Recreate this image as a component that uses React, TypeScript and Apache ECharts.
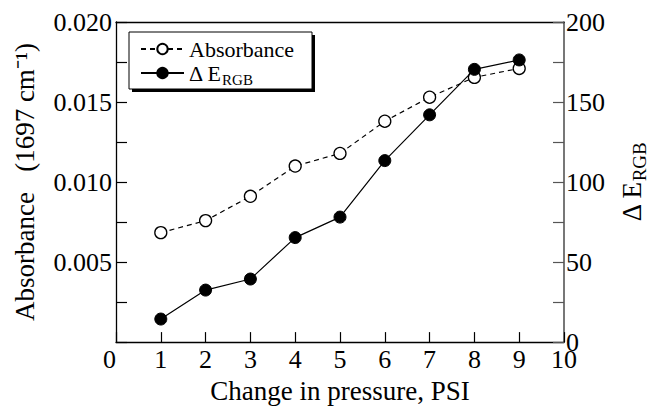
import React, { useEffect, useRef } from "react";
import * as echarts from "echarts";

const pressure = [1, 2, 3, 4, 5, 6, 7, 8, 9];
const absorbance = [0.00684, 0.00759, 0.00911, 0.0110, 0.01179, 0.0138, 0.0153, 0.01654, 0.0171];
const deltaE = [14.4, 32.5, 39.4, 65.3, 78.1, 113.4, 142, 170.4, 176.3];

const SERIF = "Liberation Serif";

export default function App() {
  const ref = useRef<HTMLDivElement>(null);
  useEffect(() => {
    document.body.style.margin = "0";
    if (!ref.current) return;
    const chart = echarts.init(ref.current, null, { renderer: "svg" });
    const absData = pressure.map((p, i) => [p, absorbance[i]]);
    const deData = pressure.map((p, i) => [p, deltaE[i]]);
    chart.setOption({
      animation: false,
      grid: { left: 116, right: 81, top: 22, bottom: 58 },
      legend: {
        orient: "vertical",
        left: 129,
        top: 34,
        padding: [4, 10, 4, 11],
        itemGap: 2,
        itemWidth: 43,
        itemHeight: 13,
        data: ["Absorbance", "dE"],
        formatter: (name: string) =>
          name === "dE" ? "{n|Δ E}{s|RGB}" : "{n|Absorbance}",
        textStyle: {
          fontFamily: SERIF,
          fontSize: 22,
          color: "#000",
          rich: {
            n: { fontFamily: SERIF, fontSize: 22, lineHeight: 22, verticalAlign: "top", color: "#000" },
            s: { fontFamily: SERIF, fontSize: 15, lineHeight: 16, padding: [10, 0, 0, 0], verticalAlign: "top", color: "#000" },
          },
        },
      },
      graphic: [
        {
          type: "rect",
          z: 0,
          shape: { x: 132, y: 35, width: 183, height: 57 },
          style: { fill: "#000" },
          silent: true,
        },
        {
          type: "rect",
          z: 1,
          shape: { x: 129, y: 32, width: 183, height: 57 },
          style: { fill: "#fff", stroke: "#000", lineWidth: 1 },
          silent: true,
        },
      ],
      xAxis: [
        {
          type: "value",
          min: 0,
          max: 10,
          interval: 1,
          position: "bottom",
          name: "Change in pressure, PSI",
          nameLocation: "middle",
          nameGap: 31,
          nameTextStyle: { fontFamily: SERIF, fontSize: 27, color: "#000" },
          axisLine: { show: true, onZero: false, lineStyle: { color: "#000", width: 1.3 } },
          axisTick: { show: true, inside: true, length: 10, lineStyle: { color: "#000", width: 1.2 } },
          axisLabel: { fontFamily: SERIF, fontSize: 26, color: "#000", margin: 4, alignMinLabel: "right" },
          splitLine: { show: false },
        },
        {
          type: "value",
          min: 0,
          max: 10,
          interval: 1,
          position: "top",
          axisLine: { show: true, onZero: false, lineStyle: { color: "#000", width: 1.3 } },
          axisTick: { show: false },
          axisLabel: { show: false },
          splitLine: { show: false },
        },
      ],
      yAxis: [
        {
          type: "value",
          min: 0,
          max: 0.02,
          interval: 0.005,
          position: "left",
          name: "Absorbance   (1697 cm\u207B\u00B9)",
          nameLocation: "middle",
          nameRotate: 90,
          nameGap: 78,
          nameTextStyle: { fontFamily: SERIF, fontSize: 27, color: "#000" },
          axisLine: { show: true, onZero: false, lineStyle: { color: "#000", width: 1.3 } },
          axisTick: { show: true, inside: true, length: 11, lineStyle: { color: "#000", width: 1.2 } },
          minorTick: { show: true, splitNumber: 2, length: 11, lineStyle: { color: "#000", width: 1.2 } },
          axisLabel: {
            fontFamily: SERIF,
            fontSize: 26,
            color: "#000",
            margin: 4,
            formatter: (v: number) => (v === 0 ? "" : v.toFixed(3)),
          },
          splitLine: { show: false },
        },
        {
          type: "value",
          min: 0,
          max: 200,
          interval: 50,
          position: "right",
          name: "{a|Δ E}{s|RGB}",
          nameLocation: "middle",
          nameRotate: 90,
          nameGap: 54,
          nameTextStyle: {
            fontFamily: SERIF,
            fontSize: 27,
            color: "#000",
            rich: {
              a: { fontFamily: SERIF, fontSize: 27, lineHeight: 27, verticalAlign: "top", color: "#000" },
              s: { fontFamily: SERIF, fontSize: 19, lineHeight: 19, padding: [12, 0, 0, 0], verticalAlign: "top", color: "#000" },
            },
          },
          axisLine: { show: true, onZero: false, lineStyle: { color: "#555", width: 1.6 } },
          axisTick: { show: true, inside: true, length: 11, lineStyle: { color: "#555", width: 1.2 } },
          minorTick: { show: true, splitNumber: 2, length: 11, lineStyle: { color: "#555", width: 1.2 } },
          axisLabel: { fontFamily: SERIF, fontSize: 26, color: "#000", margin: 2 },
          splitLine: { show: false },
        },
      ],
      series: [
        {
          name: "Absorbance",
          type: "line",
          xAxisIndex: 0,
          yAxisIndex: 0,
          data: absData,
          symbol: "circle",
          symbolSize: 12,
          showSymbol: true,
          lineStyle: { color: "#000", width: 1.2, type: [5, 4] },
          itemStyle: { color: "#fff", borderColor: "#000", borderWidth: 1.3 },
          z: 3,
        },
        {
          name: "dE",
          type: "line",
          xAxisIndex: 0,
          yAxisIndex: 1,
          data: deData,
          symbol: "circle",
          symbolSize: 12,
          showSymbol: true,
          lineStyle: { color: "#000", width: 1.2, type: "solid" },
          itemStyle: { color: "#000", borderColor: "#000", borderWidth: 1 },
          z: 4,
        },
      ],
    });
    return () => chart.dispose();
  }, []);
  return (
    <div>
      <style>{`svg text, svg tspan { font-family: "Liberation Serif", "Times New Roman", serif !important; }`}</style>
      <div ref={ref} style={{ width: 657, height: 409 }} />
    </div>
  );
}
